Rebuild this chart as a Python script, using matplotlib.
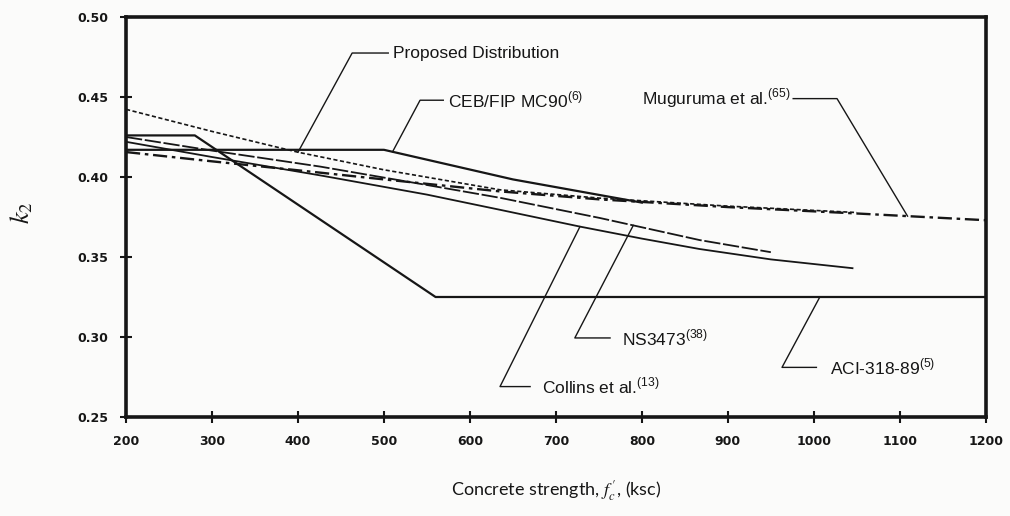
import numpy as np
import matplotlib.pyplot as plt

plt.rcParams['mathtext.fontset'] = 'stix'

# k2 versus concrete strength fc' (ksc) for several stress-block models
fc_aci = [200, 280, 560, 1200]
k2_aci = [0.426, 0.426, 0.325, 0.325]

fc_ceb = [200, 500, 650, 800]
k2_ceb = [0.417, 0.417, 0.3985, 0.384]

fc_mug = [200, 300, 400, 484, 635, 751, 900, 1050, 1200]
k2_mug = [0.4156, 0.4098, 0.4042, 0.3994, 0.391, 0.386, 0.3812, 0.3772, 0.373]

fc_prop = [200, 300, 400, 500, 635, 751, 900, 1050]
k2_prop = [0.4423, 0.4285, 0.4155, 0.4045, 0.392, 0.3868, 0.3818, 0.3778]

fc_ns = [200, 300, 426, 550, 635, 751, 867, 950]
k2_ns = [0.425, 0.4165, 0.4065, 0.395, 0.387, 0.3744, 0.3606, 0.353]

fc_col = [200, 300, 426, 550, 635, 728, 800, 867, 950, 1045]
k2_col = [0.422, 0.4125, 0.401, 0.389, 0.3795, 0.369, 0.3615, 0.355, 0.3485, 0.343]

x_ticks = [200, 300, 400, 500, 600, 700, 800, 900, 1000, 1100, 1200]
y_ticks = [0.25, 0.30, 0.35, 0.40, 0.45, 0.50]

fig = plt.figure(figsize=(10.1, 5.16), dpi=100, facecolor='#fbfbfa')
ax = fig.add_axes([0.1248, 0.1919, 0.8512, 0.7751])
ax.set_facecolor('#fbfbfa')

ink = '#161616'
ax.plot(fc_aci, k2_aci, color=ink, lw=1.6, ls='-')
ax.plot(fc_ceb, k2_ceb, color=ink, lw=1.6, ls='-')
ax.plot(fc_mug, k2_mug, color=ink, lw=1.7, ls=(0, (6, 2, 1.5, 2)))
ax.plot(fc_prop, k2_prop, color=ink, lw=1.2, ls=(0, (2.5, 1.5)))
ax.plot(fc_ns, k2_ns, color=ink, lw=1.3, ls=(0, (9, 1.5)))
ax.plot(fc_col, k2_col, color=ink, lw=1.3, ls='-')

# leader lines: (text, curve, tip fc, corner fc, corner k2, shelf end fc, text fc)
labels = [
    ("Proposed Distribution", (fc_prop, k2_prop), 400, 463, 0.4775, 505, 510),
    (r"CEB/FIP MC90$^{\mathregular{(6)}}$", (fc_ceb, k2_ceb), 510, 542, 0.448, 569, 574),
    (r"Muguruma et al.$^{\mathregular{(65)}}$", (fc_mug, k2_mug), 1109, 1027, 0.449, 976, 973),
    (r"NS3473$^{\mathregular{(38)}}$", (fc_ns, k2_ns), 790, 722, 0.2994, 763, 777),
    (r"Collins et al.$^{\mathregular{(13)}}$", (fc_col, k2_col), 728, 635, 0.269, 670, 684),
    (r"ACI-318-89$^{\mathregular{(5)}}$", (fc_aci, k2_aci), 1007, 963, 0.281, 1003, 1019),
]
for text, (cx, cy), tip, cfc, ck2, shelf, tfc in labels:
    tip_k2 = np.interp(tip, cx, cy)
    ax.plot([tip, cfc, shelf], [tip_k2, ck2, ck2], color=ink, lw=1.0)
    ha = 'right' if tfc < shelf else 'left'
    ax.text(tfc, ck2, text, ha=ha, va='center', fontsize=12.5,
            family='Liberation Sans', color=ink)

ax.set_xlim(200, 1200)
ax.set_ylim(0.25, 0.50)
ax.set_xticks(x_ticks)
ax.set_yticks(y_ticks)
ax.set_yticklabels([f"{v:.2f}" for v in y_ticks])
for lab in ax.get_xticklabels() + ax.get_yticklabels():
    lab.set_fontweight('bold')
ax.tick_params(direction='inout', length=8, width=1.5, labelsize=9, pad=9,
               colors=ink, top=False, right=False)
for sp in ax.spines.values():
    sp.set_linewidth(2.6)
    sp.set_color(ink)

ax.set_xlabel(r"Concrete strength, $f^{\,\prime}_{c}$, (ksc)", fontsize=13, labelpad=22,
              family='Lato', color=ink)
ax.set_ylabel(r"$k_2$", fontsize=19, color=ink)
ax.yaxis.set_label_coords(-0.105, 0.51)

fig.savefig('out.png', dpi=100, facecolor=fig.get_facecolor())
